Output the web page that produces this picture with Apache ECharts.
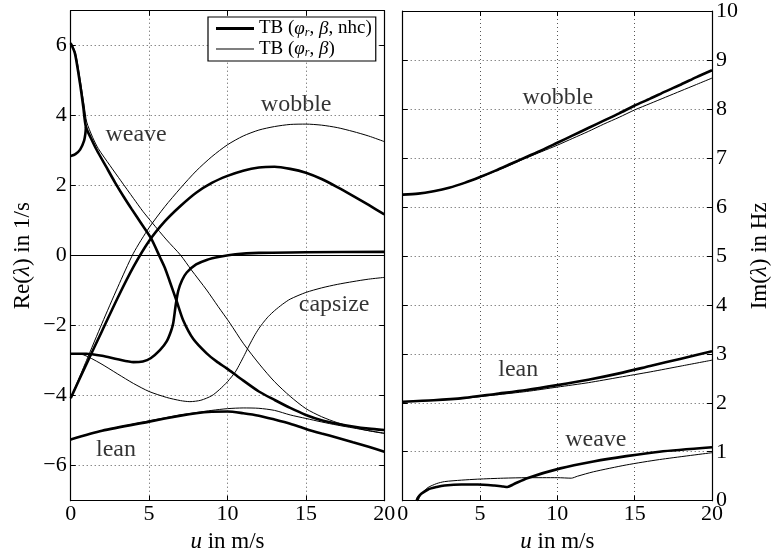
<!DOCTYPE html>
<html>
<head>
<meta charset="utf-8">
<script src="https://cdn.jsdelivr.net/npm/echarts@6/dist/echarts.min.js"></script>
<style>html,body{margin:0;padding:0;background:#fff}#c{width:772px;height:559px}</style>
</head>
<body>
<div id="c"></div>
<script>
// ---- data: u in m/s vs Re(lambda) in 1/s (left) ----
const NHC = 'TB (phi_r, beta, nhc)';
const TB = 'TB (phi_r, beta)';
const xTicks = [0, 5, 10, 15, 20];
const reTicks = [-6, -4, -2, 0, 2, 4, 6];
const imTicks = [0, 1, 2, 3, 4, 5, 6, 7, 8, 9, 10];

const reWeaveNhc = [[0,6.07],[0.27,5.78],[0.59,4.93],[0.8,4.26],[0.97,3.68],[1.3,3.35],[1.66,3.02],[2.25,2.55],[2.83,2.09],[3.4,1.67],[3.89,1.33],[4.5,0.92],[5.12,0.5],[5.7,-0.05],[6.01,-0.35],[6.33,-0.75],[6.76,-1.3],[7.18,-1.85],[7.82,-2.38],[8.67,-2.79],[9.3,-3.02],[9.95,-3.22],[10.8,-3.5],[12,-3.88],[13,-4.12],[14,-4.35],[15,-4.55],[16,-4.7],[17,-4.8],[18,-4.88],[19,-4.94],[20,-4.98]];
const reWeaveNhcLow = [[0,2.85],[0.3,2.9],[0.6,3.03],[0.85,3.28],[0.94,3.5],[0.97,3.68]];
const reWobbleNhc = [[0,-4.07],[1,-3.1],[2,-2.15],[3,-1.2],[4,-0.32],[5,0.42],[6,0.98],[7,1.42],[8,1.8],[9,2.08],[10,2.28],[11,2.43],[12,2.52],[13,2.54],[14,2.48],[15,2.37],[16,2.19],[17,1.96],[18,1.71],[19,1.45],[20,1.18]];
const reCapsizeNhc = [[0,-2.8],[1,-2.8],[2,-2.86],[3,-2.96],[4,-3.04],[4.6,-3.02],[5.1,-2.93],[5.69,-2.7],[6.12,-2.45],[6.4,-2.15],[6.54,-1.92],[6.7,-1.4],[6.86,-1.0],[7.1,-0.7],[7.4,-0.48],[8,-0.25],[8.67,-0.12],[9.5,-0.03],[10.5,0.04],[12,0.08],[15,0.1],[20,0.11]];
const reLeanNhc = [[0,-5.25],[2,-5.0],[5,-4.74],[7,-4.57],[8,-4.5],[9,-4.46],[10,-4.45],[11,-4.5],[12,-4.57],[13,-4.68],[14,-4.8],[15,-4.95],[16,-5.08],[17,-5.2],[18,-5.33],[19,-5.46],[20,-5.6]];

const reWeave = [[0,6.1],[0.3,5.8],[0.63,4.95],[0.86,4.28],[1.02,3.82],[1.4,3.38],[1.76,3.06],[2.5,2.58],[3.2,2.14],[4.0,1.64],[4.6,1.27],[5.2,0.94],[6.12,0.45],[7,0.02],[7.7,-0.41],[8.67,-0.98],[9.4,-1.45],[10.16,-1.93],[11.0,-2.5],[12.07,-3.12],[13,-3.6],[14,-4.02],[15,-4.37],[16,-4.6],[17,-4.77],[18,-4.9],[19,-5.0],[20,-5.08]];
const reWobble = [[0,-4.07],[1,-3.0],[2,-1.93],[3,-0.9],[4,0.07],[5,0.8],[6,1.4],[7,1.93],[8,2.42],[9,2.83],[10,3.17],[11,3.42],[12,3.59],[13,3.69],[14,3.75],[15,3.76],[16,3.73],[17,3.66],[18,3.55],[19,3.42],[20,3.26]];
const reCapsize = [[0,-2.8],[0.8,-2.83],[1.87,-3.07],[3,-3.38],[4,-3.65],[5,-3.88],[6.12,-4.05],[7,-4.14],[7.6,-4.17],[8.3,-4.13],[9,-4.0],[9.5,-3.82],[10,-3.6],[10.5,-3.32],[10.8,-3.08],[11.1,-2.82],[11.4,-2.55],[11.7,-2.3],[12,-2.08],[12.3,-1.9],[12.6,-1.74],[13,-1.57],[13.5,-1.39],[14,-1.24],[15,-1.05],[16,-0.92],[17,-0.82],[18,-0.74],[19,-0.67],[20,-0.62]];
const reLean = [[0,-5.25],[2,-5.0],[5,-4.72],[7,-4.55],[9,-4.42],[10,-4.37],[11,-4.35],[12,-4.36],[13,-4.42],[14,-4.55],[15,-4.65],[16,-4.75],[17,-4.84],[18,-4.92],[19,-5.0],[20,-5.07]];

// ---- data: u in m/s vs Im(lambda) in Hz (right) ----
const imWobbleNhc = [[0,6.25],[1,6.27],[2,6.32],[3,6.39],[4,6.49],[5,6.61],[6,6.74],[7,6.88],[8,7.02],[9,7.16],[10,7.31],[11,7.46],[12,7.61],[13,7.76],[14,7.91],[15,8.07],[16,8.21],[17,8.36],[18,8.5],[19,8.65],[20,8.79]];
const imLeanNhc = [[0,2.02],[2,2.05],[4,2.1],[6,2.18],[8,2.26],[10,2.36],[12,2.47],[14,2.6],[16,2.75],[18,2.9],[20,3.05]];
const imWeaveNhc = [[0.9,0],[1.0,0.07],[1.2,0.14],[1.64,0.23],[2.2,0.28],[2.71,0.31],[3.8,0.33],[4.85,0.33],[5.92,0.31],[6.5,0.29],[6.77,0.28],[7.2,0.34],[8.05,0.46],[10.19,0.66],[12.33,0.8],[14.46,0.91],[16.6,1.0],[20,1.09]];
const imWobble = [[0,6.25],[1,6.27],[2,6.32],[3,6.39],[4,6.49],[5,6.6],[6,6.73],[7,6.86],[8,7.0],[9,7.13],[10,7.26],[11,7.4],[12,7.54],[13,7.69],[14,7.83],[15,7.98],[16,8.11],[17,8.24],[18,8.37],[19,8.5],[20,8.63]];
const imLean = [[0,2.02],[2,2.05],[4,2.09],[6,2.16],[8,2.23],[10,2.32],[12,2.41],[14,2.52],[16,2.63],[18,2.75],[20,2.87]];
const imWeave = [[1.0,0],[1.1,0.08],[1.3,0.17],[1.64,0.27],[2.2,0.35],[2.71,0.39],[3.8,0.42],[4.85,0.44],[6.5,0.46],[8.05,0.47],[10,0.47],[10.9,0.46],[11.3,0.5],[12.33,0.59],[14.46,0.73],[16.6,0.84],[20,0.98]];

// ---- annotations (text, u, value) ----
const reNotes = [['weave',4.17,3.45],['wobble',14.38,4.31],['capsize',16.8,-1.41],['lean',2.89,-5.54]];
const imNotes = [['wobble',10.03,8.23],['lean',7.47,2.67],['weave',12.49,1.24]];

const FONT = 'Liberation Serif';
const FS = 22;
const minus = v => (v < 0 ? '\u2212' + (-v) : String(v));

function frameX(grid, pos, labels, name) {
  return {
    type: 'value', gridIndex: grid, position: pos, min: 0, max: 20, interval: 5,
    axisLine: { show: true, onZero: false, lineStyle: { color: '#000', width: 1.2 } },
    axisTick: { show: true, inside: true, length: 5, lineStyle: { color: '#000' } },
    axisLabel: { show: labels, margin: 3, color: '#000', fontFamily: FONT, fontSize: FS, formatter: minus },
    splitLine: { show: labels, lineStyle: { color: '#555', type: [1, 3], width: 1 } },
    name: name || '', nameLocation: 'middle', nameGap: 26,
    nameTextStyle: { color: '#000', fontFamily: FONT, fontSize: FS + 1, rich: { i: { fontStyle: 'italic', fontFamily: FONT, fontSize: FS + 1, color: '#000' } } }
  };
}
function frameY(grid, pos, min, max, opts) {
  return Object.assign({
    type: 'value', gridIndex: grid, position: pos, min: min, max: max,
    axisLine: { show: true, onZero: false, lineStyle: { color: '#000', width: 1.2 } },
    axisTick: { show: true, inside: true, length: 5, lineStyle: { color: '#000' } },
    axisLabel: { show: false },
    splitLine: { show: false }
  }, opts);
}
const yLabel = { show: true, margin: 4, color: '#000', fontFamily: FONT, fontSize: FS, formatter: minus, showMinLabel: false, showMaxLabel: false };
const ySplit = { show: true, lineStyle: { color: '#555', type: [1, 3], width: 1 } };
const nameStyle = { color: '#000', fontFamily: FONT, fontSize: FS + 1, rich: { i: { fontStyle: 'italic', fontFamily: FONT, fontSize: FS + 1, color: '#000' } } };

function line(name, data, xi, yi, thick) {
  return {
    type: 'line', name: name, data: data, xAxisIndex: xi, yAxisIndex: yi,
    showSymbol: false, symbol: 'none', smooth: 0.25, silent: true, animation: false,
    lineStyle: { color: '#000', width: thick ? 2.6 : 1 }, itemStyle: { color: '#000' }
  };
}
function notes(arr, xi, yi) {
  return {
    type: 'scatter', xAxisIndex: xi, yAxisIndex: yi, symbolSize: 0, silent: true, animation: false,
    data: arr.map(a => ({ name: a[0], value: [a[1], a[2]] })),
    label: { show: true, position: 'inside', formatter: '{b}', color: '#000', fontFamily: FONT, fontSize: 24 }
  };
}

const zeroLine = line(TB, reWeave, 0, 0, false);
zeroLine.markLine = { silent: true, symbol: 'none', label: { show: false }, animation: false,
  lineStyle: { color: '#000', width: 1, type: 'solid' }, data: [{ yAxis: 0 }] };

const option = {
  animation: false,
  backgroundColor: '#fff',
  grid: [
    { left: 70.7, top: 10.7, width: 313.6, height: 490 },
    { left: 402.7, top: 10.7, width: 312.3, height: 490 }
  ],
  xAxis: [
    frameX(0, 'bottom', true, '{i|u} in m/s'),
    frameX(0, 'top', false),
    frameX(1, 'bottom', true, '{i|u} in m/s'),
    frameX(1, 'top', false)
  ],
  yAxis: [
    frameY(0, 'left', -7, 7, { splitNumber: 7, axisLabel: yLabel, splitLine: ySplit,
      name: 'Re({i|λ}) in 1/s', nameLocation: 'middle', nameGap: 36, nameRotate: 90, nameTextStyle: nameStyle }),
    frameY(0, 'right', -7, 7, { splitNumber: 7 }),
    frameY(1, 'right', 0, 10, { interval: 1, axisLabel: Object.assign({}, yLabel, { showMinLabel: true, showMaxLabel: true }), splitLine: ySplit,
      name: 'Im({i|λ}) in Hz', nameLocation: 'middle', nameGap: 36, nameRotate: 90, nameTextStyle: nameStyle }),
    frameY(1, 'left', 0, 10, { interval: 1 })
  ],
  legend: {
    data: [
      { name: NHC, icon: 'path://M0,0H40V3H0Z' },
      { name: TB, icon: 'path://M0,0H40V1H0Z' }
    ],
    left: 208, top: 17, orient: 'vertical', symbolKeepAspect: true,
    backgroundColor: '#fff', borderColor: '#000', borderWidth: 1.2, borderRadius: 0,
    padding: [2, 4, 2, 8], itemGap: 1, itemWidth: 38, itemHeight: 19, z: 10,
    itemStyle: { color: '#000', borderWidth: 0 },
    textStyle: { fontFamily: FONT, fontSize: 19, color: '#000',
      rich: { i: { fontStyle: 'italic', fontFamily: FONT, fontSize: 19, color: '#000' },
              s: { fontStyle: 'italic', fontFamily: FONT, fontSize: 12, color: '#000', verticalAlign: 'bottom', padding: [8, 0, 0, 0] } } },
    formatter: n => (n === NHC ? 'TB ({i|φ}{s|r}, {i|β}, nhc)' : 'TB ({i|φ}{s|r}, {i|β})')
  },
  series: [
    line(NHC, reWeaveNhc, 0, 0, true),
    line(NHC, reWeaveNhcLow, 0, 0, true),
    line(NHC, reWobbleNhc, 0, 0, true),
    line(NHC, reCapsizeNhc, 0, 0, true),
    line(NHC, reLeanNhc, 0, 0, true),
    zeroLine,
    line(TB, reWobble, 0, 0, false),
    line(TB, reCapsize, 0, 0, false),
    line(TB, reLean, 0, 0, false),
    line(NHC, imWobbleNhc, 2, 2, true),
    line(NHC, imLeanNhc, 2, 2, true),
    line(NHC, imWeaveNhc, 2, 2, true),
    line(TB, imWobble, 2, 2, false),
    line(TB, imLean, 2, 2, false),
    line(TB, imWeave, 2, 2, false),
    notes(reNotes, 0, 0),
    notes(imNotes, 2, 2)
  ]
};
const chart = echarts.init(document.getElementById('c'), null, { renderer: 'canvas' });
chart.setOption(option);
</script>
</body>
</html>
